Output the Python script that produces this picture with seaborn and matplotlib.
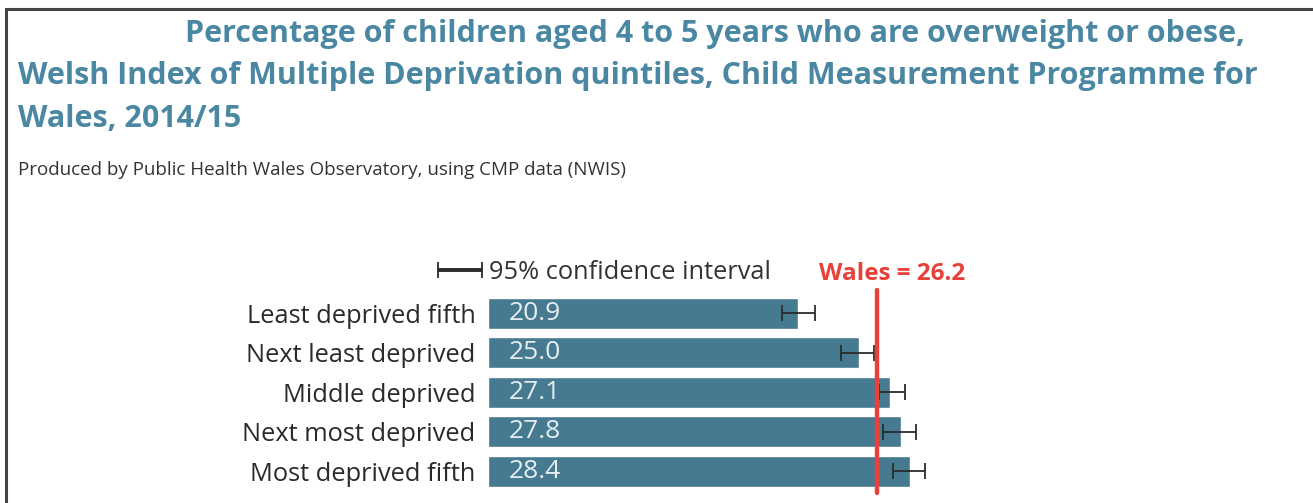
"""Childhood overweight/obesity by WIMD quintile, CMP Wales 2014/15."""

import matplotlib.pyplot as plt
import pandas as pd
import seaborn as sns
from matplotlib.legend_handler import HandlerErrorbar
from matplotlib.patches import Rectangle

sns.set_theme(style="white")
plt.rcParams["font.family"] = ["Open Sans", "DejaVu Sans"]

categories = [
    "Least deprived fifth",
    "Next least deprived",
    "Middle deprived",
    "Next most deprived",
    "Most deprived fifth",
]
values = [20.9, 25.0, 27.1, 27.8, 28.4]
ci_lower = [19.8, 23.8, 26.3, 26.6, 27.3]
ci_upper = [22.0, 26.0, 28.1, 28.8, 29.4]
wales = 26.2

BAR = "#467a91"
TITLE = "#4a87a2"
RED = "#e8403a"

df = pd.DataFrame({"group": categories, "pct": values, "lo": ci_lower, "hi": ci_upper})

W, H = 1313, 503
fig = plt.figure(figsize=(W / 100, H / 100), dpi=100)
fig.patch.set_facecolor("white")

# frame (top and left edges only visible, as in the cropped original)
fig.patches.append(Rectangle((6 / W, -0.2), 1.5, 1.2 - 9 / H, transform=fig.transFigure,
                             fill=False, edgecolor="#444444", linewidth=2.2))

# title, three lines
title_kw = dict(color=TITLE, fontsize=22, fontweight="bold", va="center", ha="left")
fig.text(185 / W, 1 - 34 / H, "Percentage of children aged 4 to 5 years who are overweight or obese,", **title_kw)
fig.text(18 / W, 1 - 76 / H, "Welsh Index of Multiple Deprivation quintiles, Child Measurement Programme for", **title_kw)
fig.text(18 / W, 1 - 119 / H, "Wales, 2014/15", **title_kw)
fig.text(18 / W, 1 - 170 / H, "Produced by Public Health Wales Observatory, using CMP data (NWIS)",
         color="#333333", fontsize=13.5, va="center", ha="left")

# axes: x=0 at 488px, ~14.85 px per percentage point
x0, ppu, xmax = 488, 14.85, 30
ax_h = 197.5
ax = fig.add_axes([x0 / W, 1 - 491 / H, xmax * ppu / W, ax_h / H])

sns.barplot(data=df, x="pct", y="group", orient="h", color=BAR, width=0.78,
            saturation=1, ax=ax, errorbar=None)

ax.errorbar(df["pct"], range(len(df)),
            xerr=[df["pct"] - df["lo"], df["hi"] - df["pct"]],
            fmt="none", ecolor="#2b2b2b", elinewidth=1.3, capsize=6, capthick=1.3,
            label="95% confidence interval")

ax.axvline(wales, color=RED, linewidth=3.2, ymin=-0.01, ymax=1.02, clip_on=False)
ax.annotate(f"Wales = {wales}", xy=(wales, 1), xycoords=("data", "axes fraction"),
            xytext=(-58, 8), textcoords="offset pixels", ha="left", va="bottom",
            color=RED, fontsize=17.5, fontweight="bold")

for i, v in enumerate(values):
    ax.annotate(f"{v:.1f}", xy=(0, i), xytext=(21, 0), textcoords="offset pixels",
                ha="left", va="center", color="#e6eef2", fontsize=19)

ax.set_xlim(0, xmax)
ax.set_ylim(len(categories) - 0.5, -0.5)
ax.set_xlabel("")
ax.set_ylabel("")
ax.set_xticks([])
ax.tick_params(axis="y", length=0, pad=9, labelsize=18.3, labelcolor="#2a2a2a")
sns.despine(ax=ax, left=True, bottom=True)


def _thick(handle, orig):
    handle.update_from(orig)
    handle.set_linewidth(2.8)


ax.legend(loc="center left", bbox_to_anchor=(-51 / (xmax * ppu), 1 + 21 / ax_h), frameon=False,
          fontsize=18.3, handlelength=1.8, handletextpad=0.25, borderaxespad=0, borderpad=0,
          labelcolor="#333333",
          handler_map={type(ax.containers[-1]): HandlerErrorbar(xerr_size=0.88, update_func=_thick)})

fig.savefig("out.png", dpi=100, facecolor="white")
